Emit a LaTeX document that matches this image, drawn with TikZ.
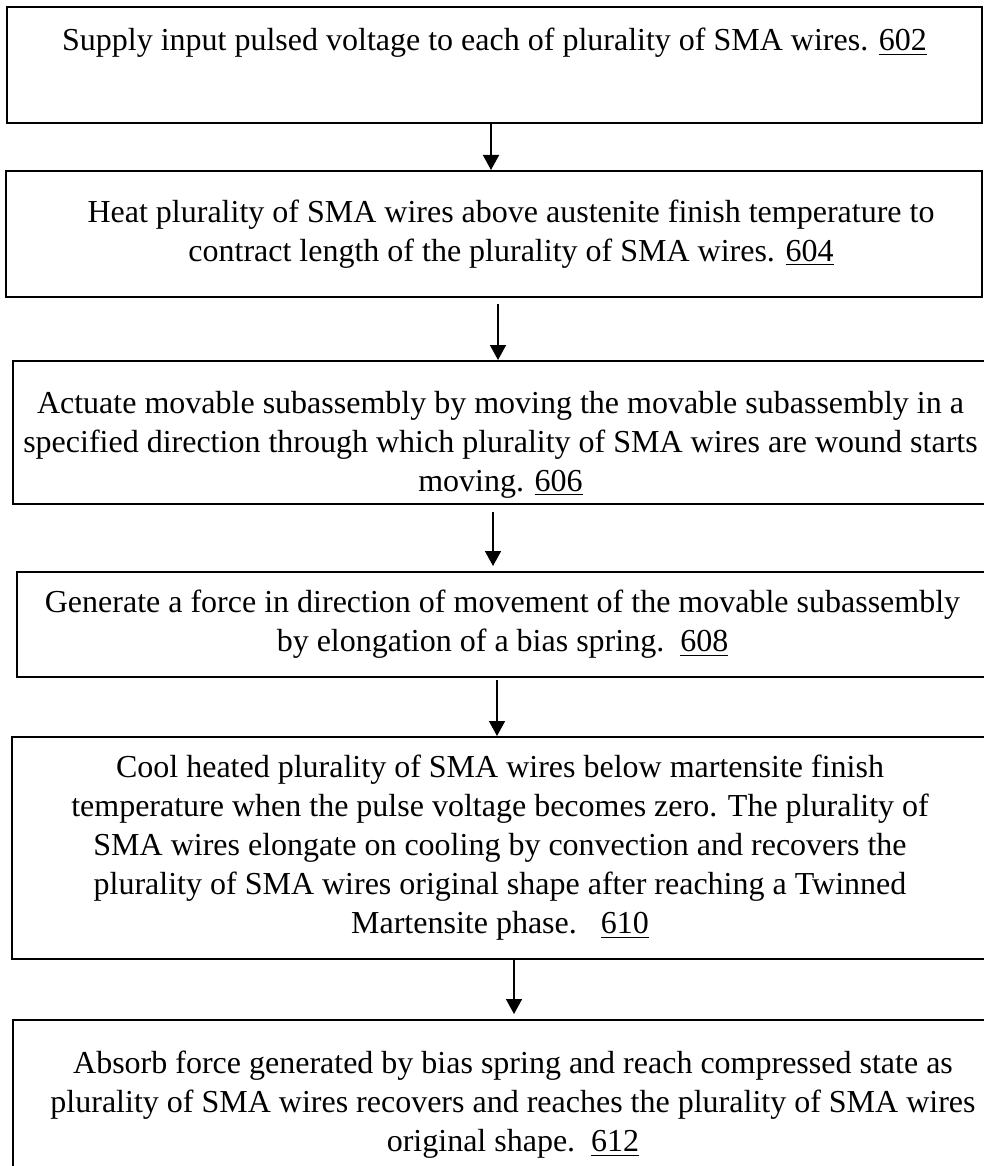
\documentclass[tikz,border=0pt]{standalone}
\usepackage{fontspec}
\setmainfont{Liberation Serif}
\usetikzlibrary{arrows.meta}

\tikzset{
    stepbox/.style={draw, line width=1pt, rectangle, align=center, inner sep=0pt,
        font=\fontsize{16}{19.5}\selectfont},
    flow/.style={line width=0.8pt, -{Triangle[length=7.5pt,width=8pt]}}
}

\begin{document}
\begin{tikzpicture}[x=0.5pt, y=-0.5pt]
    \useasboundingbox (0,0) rectangle (984,1166);
    \clip (0,0) rectangle (984,1166);

    \node[stepbox, minimum width=487.5pt, minimum height=58pt] (s602) at (494.5,65)
        {Supply input pulsed voltage to each of plurality of SMA wires. \underline{602}\\ \strut};
    \node[stepbox, minimum width=488pt, minimum height=63pt] (s604) at (494,234)
        {\hspace*{17pt}Heat plurality of SMA wires above austenite finish temperature to\\
         \hspace*{17pt}contract length of the plurality of SMA wires. \underline{604}};
    \node[stepbox, minimum width=487.5pt, minimum height=71.5pt] (s606) at (500.5,432.5)
        {\rule{0pt}{23pt}Actuate movable subassembly by moving the movable subassembly in a\\
         specified direction through which plurality of SMA wires are wound starts\\
         moving. \underline{606}};
    \node[stepbox, minimum width=485.5pt, minimum height=52.5pt] (s608) at (502.5,624.5)
        {Generate a force in direction of movement of the movable subassembly\\
         by elongation of a bias spring.\ \ \underline{608}};
    \node[stepbox, minimum width=488pt, minimum height=111pt] (s610) at (500,848)
        {Cool heated plurality of SMA wires below martensite finish\\
         temperature when the pulse voltage becomes zero. The plurality of\\
         SMA wires elongate on cooling by convection and recovers the\\
         plurality of SMA wires original shape after reaching a Twinned\\
         Martensite phase.\ \ \ \underline{610}};
    \node[stepbox, minimum width=500pt, minimum height=85pt] (s612) at (513,1105)
        {Absorb force generated by bias spring and reach compressed state as\\
         plurality of SMA wires recovers and reaches the plurality of SMA wires\\
         original shape.\ \ \underline{612}};

    \draw[flow] ([xshift=-1.75pt]s602.south) -- ([xshift=-1.75pt]s602.south |- s604.north);
    \draw[flow] ([xshift=2pt,yshift=-3pt]s604.south) -- ([xshift=2pt]s604.south |- s606.north);
    \draw[flow] ([xshift=-3.75pt,yshift=-3.5pt]s606.south) -- ([xshift=-3.75pt,yshift=2.5pt]s606.south |- s608.north);
    \draw[flow] ([xshift=-2.75pt,yshift=-1pt]s608.south) -- ([xshift=-2.75pt]s608.south |- s610.north);
    \draw[flow] ([xshift=7pt]s610.south) -- ([xshift=7pt,yshift=2.5pt]s610.south |- s612.north);
\end{tikzpicture}
\end{document}
